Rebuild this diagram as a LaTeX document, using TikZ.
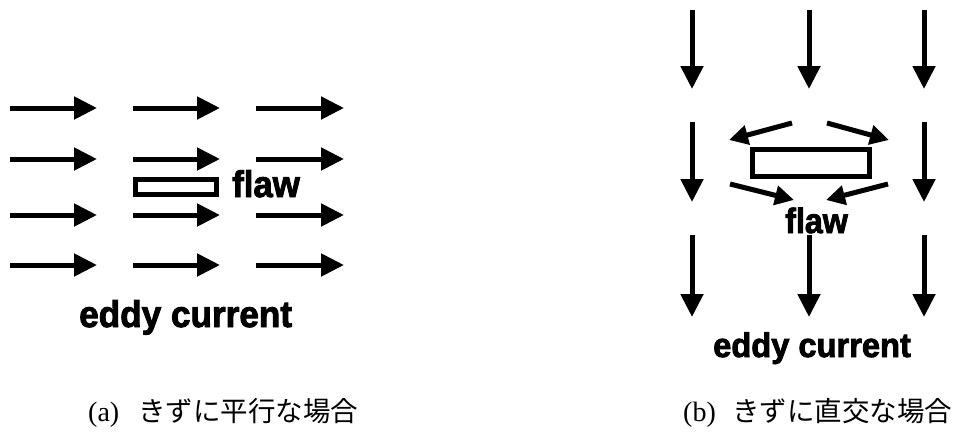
\documentclass[tikz,border=0pt]{standalone}
\usepackage{fontspec}
\usetikzlibrary{arrows.meta}
\newfontfamily\labelfont{Liberation Sans}[BoldFont={Liberation Sans Bold},BoldFeatures={FakeBold=2.5}]
\newfontfamily\capserif{Liberation Serif}
\newfontfamily\cjk{Noto Sans CJK JP}
\tikzset{
  flux/.style={line width=5pt,-{Triangle[length=23pt,width=22pt]}},
  swirl/.style={line width=5pt,-{Triangle[length=19pt,width=19pt]}},
  flawbox/.style={draw,line width=5pt},
  biglabel/.style={inner sep=0pt,anchor=base west,font=\labelfont\bfseries\fontsize{37}{37}\selectfont},
  caplabel/.style={inner sep=0pt,anchor=base west},
  capser/.style={caplabel,font=\capserif\fontsize{28}{28}\selectfont},
  capjp/.style={caplabel,font=\cjk\fontsize{27.5}{27.5}\selectfont}
}
\begin{document}
\begin{tikzpicture}[x=1pt,y=-1pt]
\useasboundingbox (0,0) rectangle (958,432);
% ---------- (a) parallel ----------
\foreach \r/\yy in {1/108,2/159,3/215,4/265}{
  \foreach \c/\xa/\xb in {1/10/97,2/133/220,3/256/344}{
    \coordinate (a\r\c s) at (\xa,\yy);
    \coordinate (a\r\c e) at (\xb,\yy);
    \draw[flux] (a\r\c s) -- (a\r\c e);
  }
}
\draw[flawbox] (135.5,179.5) rectangle (216.5,194.5);
\node[biglabel] (flawa) at (232,197) {\scalebox{0.94}[1]{flaw}};
\node[biglabel] (eddya) at (79,327) {\scalebox{0.95}[1]{eddy current}};
% ---------- (b) perpendicular ----------
\foreach \c/\xx in {1/692,2/809,3/924}{
  \coordinate (b1\c s) at (\xx,10);
  \coordinate (b1\c e) at (\xx,89);
  \draw[flux] (b1\c s) -- (b1\c e);
  \coordinate (b3\c s) at (\xx,235);
  \coordinate (b3\c e) at (\xx,317);
  \draw[flux] (b3\c s) -- (b3\c e);
}
\foreach \c/\xx in {1/692,3/924}{
  \coordinate (b2\c s) at (\xx,122);
  \coordinate (b2\c e) at (\xx,202);
  \draw[flux] (b2\c s) -- (b2\c e);
}
\draw[flawbox] (752.5,149.5) rectangle (869.5,176.5);
\coordinate (ulS) at (792,123); \coordinate (ulE) at (729,140);
\coordinate (urS) at (827,123); \coordinate (urE) at (889,140);
\coordinate (llS) at (730,184); \coordinate (llE) at (794,200);
\coordinate (lrS) at (888,184); \coordinate (lrE) at (826,200);
\draw[swirl] (ulS) -- (ulE);
\draw[swirl] (urS) -- (urE);
\draw[swirl] (llS) -- (llE);
\draw[swirl] (lrS) -- (lrE);
\node[biglabel,font=\labelfont\bfseries\fontsize{35}{35}\selectfont] (flawb) at (785,233) {\scalebox{0.92}[1]{flaw}};
\node[biglabel,font=\labelfont\bfseries\fontsize{34}{34}\selectfont] (eddyb) at (713,357) {\scalebox{0.96}[1]{eddy current}};
% ---------- captions ----------
\node[capser] (capa) at (88,421) {(a)};
\node[capjp] (capaj) at (138,421) {きずに平行な場合};
\node[capser] (capb) at (683,421) {(b)};
\node[capjp] (capbj) at (732,421) {きずに直交な場合};
\end{tikzpicture}
\end{document}
